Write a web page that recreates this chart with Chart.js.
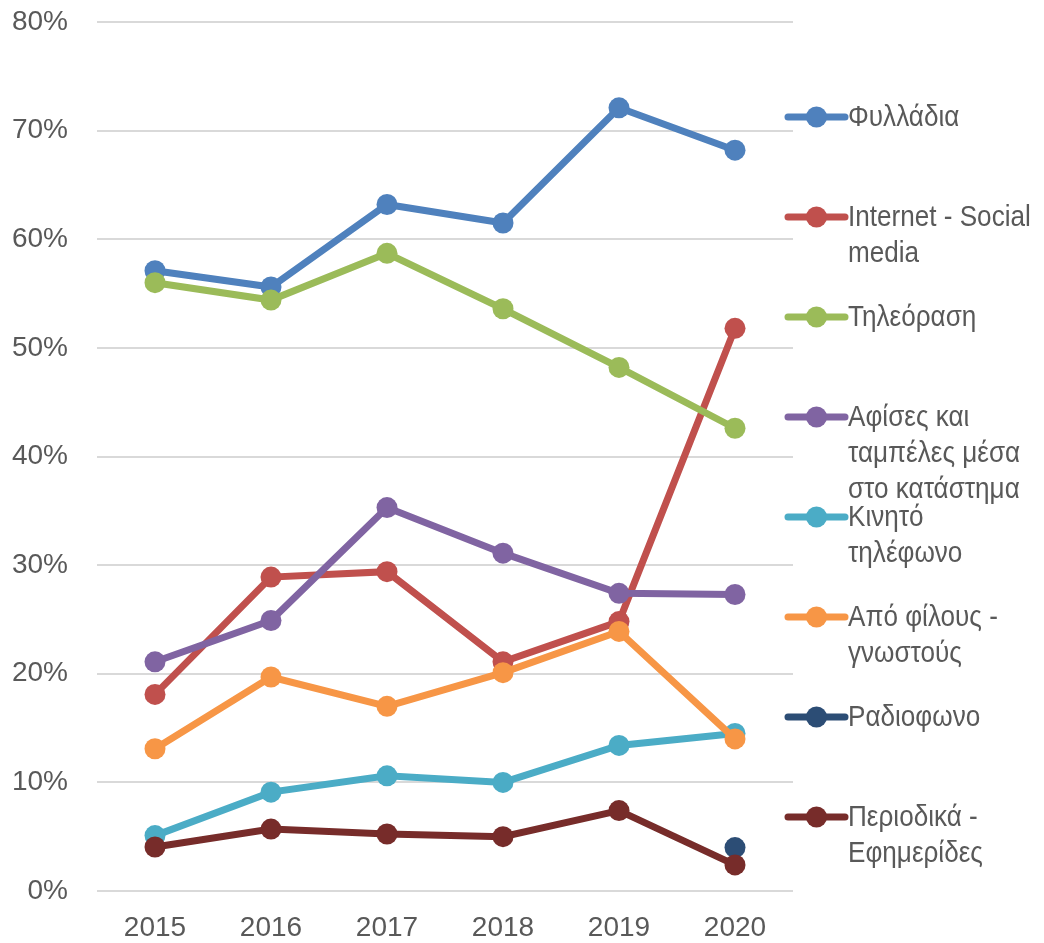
<!DOCTYPE html>
<html>
<head>
<meta charset="utf-8">
<script src="https://cdn.jsdelivr.net/npm/chart.js@4/dist/chart.umd.min.js"></script>
<style>
  html, body { margin: 0; padding: 0; background: #fff; }
  #wrap { width: 1044px; height: 943px; position: relative; }
</style>
</head>
<body>
<div id="wrap"><canvas id="mediaChart"></canvas></div>
<script>
const years = ["2015", "2016", "2017", "2018", "2019", "2020"];
const yTicks = [0, 10, 20, 30, 40, 50, 60, 70, 80];

const seriesNames = [
  "Φυλλάδια",
  "Internet - Social\nmedia",
  "Τηλεόραση",
  "Αφίσες και\nταμπέλες μέσα\nστο κατάστημα",
  "Κινητό\nτηλέφωνο",
  "Από φίλους -\nγνωστούς",
  "Ραδιοφωνο",
  "Περιοδικά -\nΕφημερίδες"
];
const seriesColors = ["#4F81BD", "#C0504D", "#9BBB59", "#8064A2", "#4BACC6", "#F79646", "#2C4D75", "#772C2A"];

const leaflets  = [57.1, 55.6, 63.2, 61.5, 72.1, 68.2];
const internet  = [18.1, 28.9, 29.4, 21.1, 24.8, 51.8];
const tv        = [56.0, 54.4, 58.7, 53.6, 48.2, 42.6];
const posters   = [21.1, 24.9, 35.3, 31.1, 27.4, 27.3];
const mobile    = [5.1, 9.1, 10.6, 10.0, 13.4, 14.5];
const friends   = [13.1, 19.7, 17.0, 20.1, 23.9, 14.0];
const radio     = [null, null, null, null, null, 4.0];
const magazines = [4.05, 5.7, 5.25, 5.0, 7.4, 2.4];

const seriesValues = [leaflets, internet, tv, posters, mobile, friends, radio, magazines];

const FONT = "'Liberation Sans', Arial, sans-serif";
const TEXT = "#595959";

// legend drawn by hand so the wrapped labels sit like the original
// (text squeezed a bit, the original used a narrow face)
const sideLegend = {
  id: "sideLegend",
  afterDatasetsDraw(chart) {
    const ctx = chart.ctx;
    const x0 = chart.chartArea.right - 5;
    const top = 117, step = 100, lineH = 36;
    ctx.save();
    seriesNames.forEach((name, i) => {
      const y = top + i * step;
      const c = seriesColors[i];
      ctx.strokeStyle = c;
      ctx.lineWidth = 7;
      ctx.lineCap = "round";
      ctx.beginPath();
      ctx.moveTo(x0, y);
      ctx.lineTo(x0 + 57, y);
      ctx.stroke();
      ctx.fillStyle = c;
      ctx.beginPath();
      ctx.arc(x0 + 28.5, y, 10.5, 0, Math.PI * 2);
      ctx.fill();
      ctx.fillStyle = TEXT;
      ctx.font = "30px " + FONT;
      ctx.textBaseline = "middle";
      ctx.textAlign = "left";
      name.split("\n").forEach((ln, k) => {
        ctx.save();
        ctx.translate(x0 + 60, y + 1 + k * lineH);
        ctx.scale(0.87, 1);
        ctx.fillText(ln, 0, 0);
        ctx.restore();
      });
    });
    ctx.restore();
  }
};

const datasets = seriesValues.map((vals, i) => ({
  label: seriesNames[i].replace(/\n/g, " "),
  data: vals,
  borderColor: seriesColors[i],
  backgroundColor: seriesColors[i],
  borderWidth: 7,
  pointRadius: 10.5,
  pointBorderWidth: 0,
  pointHoverRadius: 10.5,
  tension: 0,
  spanGaps: false,
  order: seriesValues.length - i
}));

new Chart(document.getElementById("mediaChart"), {
  type: "line",
  data: { labels: years, datasets: datasets },
  options: {
    responsive: true,
    maintainAspectRatio: false,
    animation: false,
    events: [],
    layout: { padding: { top: 22, right: 251, left: 0, bottom: 0 } },
    plugins: { legend: { display: false }, tooltip: { enabled: false } },
    scales: {
      x: {
        offset: true,
        grid: { display: false, drawTicks: false },
        border: { display: false },
        ticks: { color: TEXT, font: { size: 28, family: FONT }, padding: 20, maxRotation: 0 },
        afterFit(scale) { scale.height = 52; }
      },
      y: {
        min: yTicks[0],
        max: yTicks[yTicks.length - 1],
        afterBuildTicks(scale) { scale.ticks = yTicks.map(v => ({ value: v })); },
        grid: { color: "#D9D9D9", lineWidth: 2, drawTicks: true, tickLength: 29, tickColor: "rgba(0,0,0,0)" },
        border: { display: false },
        ticks: { color: TEXT, font: { size: 28, family: FONT }, padding: 0, callback: v => v + "%" },
        afterFit(scale) { scale.width = 97; }
      }
    }
  },
  plugins: [sideLegend]
});
</script>
</body>
</html>
